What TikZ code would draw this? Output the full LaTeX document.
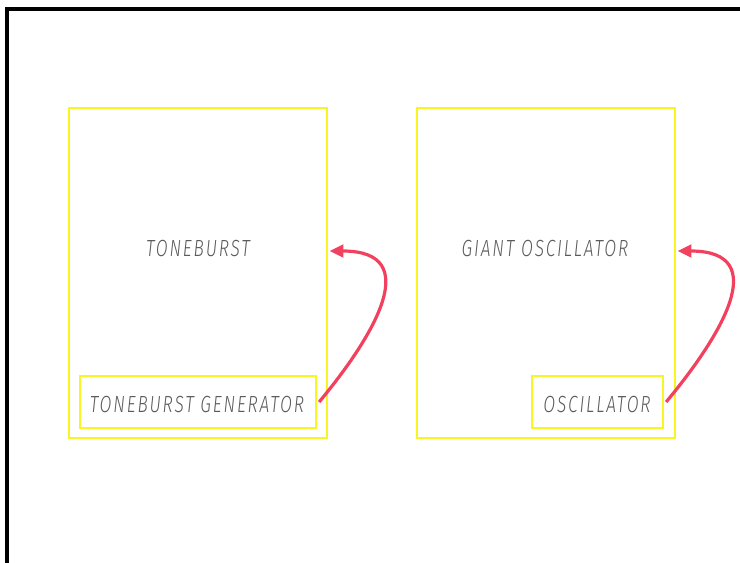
\documentclass[tikz,border=0pt]{standalone}
\usepackage{fontspec}
\setmainfont{Fira Sans Light}[ItalicFont={Fira Sans Light Italic}]
\usetikzlibrary{arrows.meta}
\definecolor{boxyellow}{HTML}{F8F522}
\definecolor{arrowred}{HTML}{F2415E}
\definecolor{txtgrey}{HTML}{5A5A5A}
\begin{document}
\begin{tikzpicture}[x=0.75pt,y=-0.75pt,
  outerbox/.style={draw=boxyellow,line width=1.7pt,minimum width=258*0.75pt,minimum height=330*0.75pt,inner sep=0pt},
  innerbox/.style={draw=boxyellow,line width=1.7pt,minimum height=52*0.75pt,inner sep=0pt},
  lbl/.style={text=txtgrey,font=\fontsize{17.5}{19}\selectfont\itshape\addfontfeature{FakeStretch=0.74,LetterSpace=8}},
  flow/.style={draw=arrowred,line width=2.4pt,-{Triangle[length=10.5pt,width=9.5pt]}}]
\useasboundingbox (0,0) rectangle (740,562);
\draw[line width=2.3pt,line cap=rect] (7,562) coordinate (fbl) -- (7,9) coordinate (ftl) -- (741,9) coordinate (ftr);
\node[outerbox] (tb) at (198,273) {};
\node[outerbox] (go) at (546,273) {};
\node[innerbox,minimum width=236*0.75pt] (tbg) at (198,402) {};
\node[innerbox,minimum width=131*0.75pt] (osc) at (597.5,402) {};
\node[lbl] (tbl) at (198,249) {TONEBURST};
\node[lbl] (gol) at (545,249) {GIANT OSCILLATOR};
\node[lbl] (tbgl) at (197,404) {TONEBURST GENERATOR};
\node[lbl] (oscl) at (597,404) {OSCILLATOR};
\coordinate (a1s) at ([xshift=1.5pt]tbg.east);
\coordinate (a1e) at ([xshift=1pt,yshift=16.5pt]tb.east);
\draw[flow] (a1s) .. controls +(54,-65) and +(96,0) .. (a1e);
\coordinate (a2s) at ([xshift=1.5pt]osc.east);
\coordinate (a2e) at ([xshift=1pt,yshift=16.5pt]go.east);
\draw[flow] (a2s) .. controls +(54,-65) and +(96,0) .. (a2e);
\end{tikzpicture}
\end{document}
